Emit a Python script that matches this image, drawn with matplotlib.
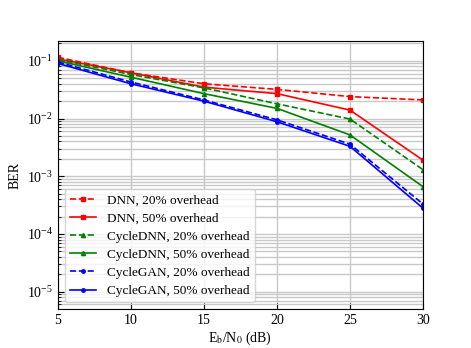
import matplotlib
matplotlib.use("Agg")
import matplotlib.pyplot as plt
import numpy as np

plt.rcParams['font.family'] = ['Liberation Serif', 'DejaVu Serif']
plt.rcParams['mathtext.fontset'] = 'stix'

snr = [5, 10, 15, 20, 25, 30]
dnn_20 = [0.115, 0.062, 0.040, 0.032, 0.024, 0.021]
dnn_50 = [0.108, 0.062, 0.035, 0.027, 0.0140, 0.0019]
cdnn_20 = [0.105, 0.058, 0.034, 0.018, 0.0098, 0.0013]
cdnn_50 = [0.100, 0.052, 0.027, 0.015, 0.0052, 0.00066]
cgan_20 = [0.095, 0.043, 0.021, 0.0095, 0.0036, 0.00033]
cgan_50 = [0.090, 0.040, 0.020, 0.0088, 0.0033, 0.00028]

series = [
    (dnn_20, 'r', '--', 's', 'DNN, 20% overhead'),
    (dnn_50, 'r', '-', 's', 'DNN, 50% overhead'),
    (cdnn_20, 'g', '--', '^', 'CycleDNN, 20% overhead'),
    (cdnn_50, 'g', '-', '^', 'CycleDNN, 50% overhead'),
    (cgan_20, 'b', '--', 'o', 'CycleGAN, 20% overhead'),
    (cgan_50, 'b', '-', 'o', 'CycleGAN, 50% overhead'),
]

fig = plt.figure(figsize=(4.71, 3.48), dpi=100)
ax = fig.add_axes([0.123, 0.112, 0.775, 0.770])

for vals, c, ls, m, lab in series:
    ms = 2.5 if m == 'o' else 3
    ax.plot(snr, vals, color=c, linestyle=ls, marker=m, markersize=ms, linewidth=1.2, label=lab)

ax.set_yscale('log')
ax.set_xlim(5, 30)
ax.set_ylim(5e-6, 0.22)
ax.set_xticks(snr)
ax.grid(True, which='major', color='#c8c8c8', linewidth=1.0)
ax.grid(True, which='minor', color='#c8c8c8', linewidth=1.0)
ax.set_axisbelow(True)
ax.tick_params(which='both', direction='in', labelsize=10)
ax.tick_params(which='major', length=4)
ax.tick_params(which='minor', length=2)
for s in ax.spines.values():
    s.set_color('black')
ax.set_xlabel(r'E$_\mathrm{b}$/N$_0$ (dB)', fontsize=10, labelpad=2)
ax.set_ylabel('BER', fontsize=10)
ax.legend(loc='lower left', fontsize=9.5, handlelength=2.0, labelspacing=0.45, borderpad=0.4)

fig.savefig('out.png', dpi=100)
